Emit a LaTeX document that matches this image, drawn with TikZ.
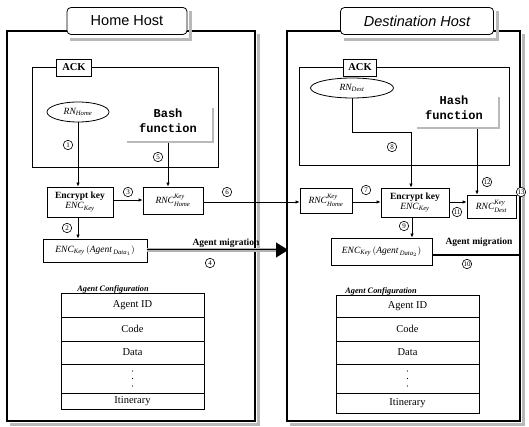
\documentclass[tikz,border=0pt]{standalone}
\usepackage{fontspec}
\setmainfont{Liberation Serif}
\newfontfamily\titlefont{Liberation Sans}
\newfontfamily\hashfont{Liberation Mono}
\usetikzlibrary{shapes.geometric,arrows.meta,calc}
\tikzset{
  outer/.style={line width=2pt},
  shade/.style={draw=gray!55, line width=3pt},
  titlebox/.style={draw, line width=0.8pt, rounded corners=4pt, fill=white, font=\titlefont\fontsize{14.5}{15}\selectfont, inner sep=0pt},
  ackbox/.style={draw, line width=0.8pt},
  acklbl/.style={draw, line width=0.8pt, fill=white, font=\bfseries\fontsize{10.5}{11}\selectfont, inner sep=0pt},
  keybox/.style={draw, line width=0.8pt, fill=white, inner sep=1pt, font=\fontsize{9.5}{11}\selectfont, align=center},
  rnell/.style={draw, ellipse, line width=0.8pt, inner sep=0pt, font=\fontsize{9.5}{10}\selectfont},
  hashtxt/.style={font=\hashfont\bfseries\fontsize{12}{15}\selectfont, align=center, inner sep=0pt},
  num/.style={draw, circle, line width=0.6pt, fill=white, minimum size=9.5pt, inner sep=0pt, font=\fontsize{7}{7}\selectfont},
  arr/.style={-{Latex[length=4pt,width=3.5pt]}, line width=0.8pt},
  cell/.style={draw, line width=0.8pt, font=\fontsize{10.5}{11}\selectfont, inner sep=0pt, minimum width=143pt},
  legend/.style={fill=white, inner sep=1pt, font=\bfseries\itshape\fontsize{8.3}{8.3}\selectfont},
  miglbl/.style={font=\bfseries\fontsize{9.5}{10}\selectfont, inner sep=0pt},
}
\begin{document}
\begin{tikzpicture}[x=1pt,y=-1pt]
\useasboundingbox (0,0) rectangle (529,427);
% ---------- Home host ----------
\draw[shade] (258.5,34) -- (258.5,424) -- (10,424);
\draw[outer] (7,31) rectangle (255,421);
\draw[shade] (190,11) -- (190,40) -- (70,40);
\node[titlebox, minimum width=120pt, minimum height=27pt] (hometitle) at (127,21) {Home Host};
\draw[ackbox] (32,67) rectangle (218,167);
\node[acklbl, minimum width=35pt, minimum height=17pt] (homeack) at (74,67.5) {ACK};
\node[rnell, minimum width=62pt, minimum height=20pt] (rnhome) at (78,112) {$\mathit{RN}_{\mathit{Home}}$};
\node[hashtxt] (hashhome) at (168,121) {Bash\\function};
\draw[shade, line width=2.5pt] (127,142) -- (213,142) -- (213,108);
\coordinate (hh) at (168,143.5);
\node[keybox, minimum width=66pt, minimum height=30pt] (enchome) at (80,202) {\textbf{Encrypt key}\\[-1pt]$\mathit{ENC}_{\mathit{Key}}$};
\node[keybox, minimum width=60pt, minimum height=27pt] (rnchome) at (173,200.5) {$\mathit{RNC}^{\mathit{Key}}_{\mathit{Home}}$};
\node[keybox, minimum width=104pt, minimum height=23pt] (encdata1) at (95,250.5) {$\mathit{ENC}_{\mathit{Key}}\,(\mathit{Agent}_{\,\mathit{Data}_1})$};
% table home
\node[legend] (cfghome) at (113,289) {Agent Configuration};
\node[cell, minimum height=24pt] (h1) at (132.5,305) {Agent ID};
\node[cell, minimum height=24pt] (h2) at (132.5,329) {Code};
\node[cell, minimum height=23pt] (h3) at (132.5,352.5) {Data};
\node[cell, minimum height=29pt] (h4) at (132.5,378.5) {};
\node[cell, minimum height=16pt] (h5) at (132.5,401) {Itinerary};
\draw[line width=0.8pt] (61,293) -- (72,293) (155,293) -- (204,293);
\foreach \yy in {371,378.5,386} \fill (h4.center |- 0,\yy) circle (0.7pt);
% ---------- Destination host ----------
\draw[shade] (523.5,34) -- (523.5,424) -- (290,424);
\draw[outer] (287,31) rectangle (520,421);
\draw[shade] (497,11) -- (497,40) -- (344,40);
\node[titlebox, minimum width=153pt, minimum height=27pt] (desttitle) at (417,21) {\itshape Destination Host};
\draw[ackbox] (299,67) rectangle (509,165);
\node[acklbl, minimum width=33pt, minimum height=17pt] (destack) at (360,67.5) {ACK};
\node[rnell, minimum width=83pt, minimum height=20pt] (rndest) at (352,88) {$\mathit{RN}_{\mathit{Dest}}$};
\node[hashtxt] (hashdest) at (454,108) {Hash\\function};
\draw[shade, line width=2.5pt] (417,128) -- (499,128) -- (499,97);
\coordinate (hd) at (477,129.5);
\node[keybox, minimum width=52pt, minimum height=25pt] (rnchome2) at (326,200.5) {$\mathit{RNC}^{\mathit{Key}}_{\mathit{Home}}$};
\node[keybox, minimum width=68pt, minimum height=29pt] (encdest) at (415,202.5) {\textbf{Encrypt key}\\[-1pt]$\mathit{ENC}_{\mathit{Key}}$};
\node[keybox, minimum width=49pt, minimum height=23pt] (rncdest) at (491.5,206.5) {$\mathit{RNC}^{\mathit{Key}}_{\mathit{Dest}}$};
\node[keybox, minimum width=101pt, minimum height=27pt] (encdata2) at (381.5,251.5) {$\mathit{ENC}_{\mathit{Key}}\,(\mathit{Agent}_{\,\mathit{Data}_2})$};
% table dest
\node[legend] (cfgdest) at (381,291) {Agent Configuration};
\node[cell, minimum height=22pt] (d1) at (407.5,306) {Agent ID};
\node[cell, minimum height=24pt] (d2) at (407.5,329) {Code};
\node[cell, minimum height=23pt] (d3) at (407.5,352.5) {Data};
\node[cell, minimum height=29pt] (d4) at (407.5,378.5) {};
\node[cell, minimum height=20pt] (d5) at (407.5,403) {Itinerary};
\draw[line width=0.8pt] (336,295) -- (342,295) (420,295) -- (479,295);
\foreach \yy in {371,378.5,386} \fill (d4.center |- 0,\yy) circle (0.7pt);
% ---------- connectors ----------
\draw[arr] (rnhome.south) -- (rnhome.south |- enchome.north);
\draw[arr] (hh) -- (hh |- rnchome.north);
\draw[arr] (enchome.east |- 0,200) -- (rnchome.west |- 0,200);
\draw[arr] (enchome.south -| 78,0) -- (encdata1.north -| 78,0);
\draw[arr] (rnchome.east |- 0,202) -- (rnchome2.west |- 0,202);
\coordinate (migend) at (288,250);
\draw[draw=gray!60, line width=3.5pt] (encdata1.east |- 0,250) -- (276,250);
\draw[draw=black, line width=0.5pt] (encdata1.east |- 0,249) -- (276,249);
\draw[-{Triangle[length=12pt,width=15pt]}, line width=0.1pt] (276,250) -- (migend);
\draw[line width=0.8pt] (rndest.south) -- (rndest.south |- 0,132) -- (411,132);
\draw[arr] (411,132) -- (encdest.north -| 411,0);
\draw[arr] (hd) -- (hd |- rncdest.north);
\draw[arr] (rnchome2.east |- 0,202) -- (encdest.west |- 0,202);
\draw[arr] (encdest.east |- 0,202) -- (rncdest.west |- 0,202);
\draw[arr] (encdest.south -| 412,0) -- (encdata2.north -| 412,0);
\coordinate (migout) at (520,255);
\draw[line width=2.5pt] (encdata2.east |- 0,255) -- (migout);
% ---------- labels ----------
\node[miglbl] (mig1) at (226,243) {Agent migration};
\node[miglbl] (mig2) at (479,242) {Agent migration};
\node[num] (n1) at (68,145) {1};
\node[num] (n2) at (67,228) {2};
\node[num] (n3) at (128,192) {3};
\node[num] (n4) at (210,263) {4};
\node[num] (n5) at (158,157) {5};
\node[num] (n6) at (227,192) {6};
\node[num] (n7) at (366,190) {7};
\node[num] (n8) at (392,147) {8};
\node[num] (n9) at (404,226) {9};
\node[num] (n10) at (467,264) {10};
\node[num] (n11) at (457,212) {11};
\node[num] (n12) at (487,182) {12};
\node[num] (n13) at (521,192) {13};
\end{tikzpicture}
\end{document}
